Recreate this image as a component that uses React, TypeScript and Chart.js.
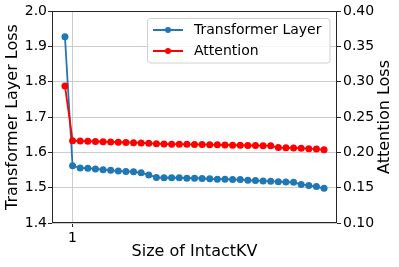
import React, { useEffect, useRef } from "react";
import { Chart, registerables } from "chart.js";

Chart.register(...registerables);

const xValues = [0, 1, 2, 3, 4, 5, 6, 7, 8, 9, 10, 11, 12, 13, 14, 15, 16, 17, 18, 19, 20, 21, 22, 23, 24, 25, 26, 27, 28, 29, 30, 31, 32, 33, 34];
const layerLoss = [1.927, 1.562, 1.556, 1.555, 1.553, 1.551, 1.549, 1.547, 1.546, 1.545, 1.542, 1.536, 1.529, 1.528, 1.528, 1.528, 1.527, 1.527, 1.526, 1.525, 1.524, 1.524, 1.523, 1.523, 1.521, 1.520, 1.519, 1.518, 1.517, 1.516, 1.515, 1.509, 1.506, 1.503, 1.498];
const attnLoss = [0.294, 0.2165, 0.216, 0.2157, 0.2153, 0.215, 0.2146, 0.2143, 0.214, 0.2137, 0.2133, 0.2128, 0.2123, 0.2118, 0.2116, 0.2115, 0.2114, 0.2112, 0.211, 0.2108, 0.2106, 0.2104, 0.2102, 0.21, 0.2098, 0.2096, 0.2094, 0.2092, 0.2068, 0.2064, 0.2062, 0.2058, 0.2052, 0.2046, 0.2036];
const leftTicks = [1.4, 1.5, 1.6, 1.7, 1.8, 1.9, 2.0];
const rightTicks = [0.1, 0.15, 0.2, 0.25, 0.3, 0.35, 0.4];
const xTicks = [1];
const seriesLabels = ["Transformer Layer", "Attention"];
const seriesColors = ["#1f77b4", "#ff0000"];

const FONT = "'DejaVu Sans', sans-serif";

const framePlugin = {
  id: "frameAndLegend",
  afterDraw(chart: any) {
    const { ctx, chartArea } = chart;
    ctx.save();
    // spines
    ctx.strokeStyle = "#262626";
    ctx.lineWidth = 1;
    ctx.strokeRect(chartArea.left + 0.5, chartArea.top + 0.5, chartArea.right - chartArea.left - 1, chartArea.bottom - chartArea.top - 1);
    // right axis title (bottom-to-top like matplotlib)
    ctx.save();
    ctx.translate(385, (chartArea.top + chartArea.bottom) / 2);
    ctx.rotate(-Math.PI / 2);
    ctx.fillStyle = "#000";
    ctx.font = "16px " + FONT;
    ctx.textAlign = "center";
    ctx.textBaseline = "middle";
    ctx.fillText("Attention Loss", 0, 0);
    ctx.restore();
    // legend
    const bx = 147.5, by = 18.5, bw = 182.5, bh = 44.5, r = 3;
    ctx.beginPath();
    ctx.moveTo(bx + r, by);
    ctx.lineTo(bx + bw - r, by);
    ctx.arcTo(bx + bw, by, bx + bw, by + r, r);
    ctx.lineTo(bx + bw, by + bh - r);
    ctx.arcTo(bx + bw, by + bh, bx + bw - r, by + bh, r);
    ctx.lineTo(bx + r, by + bh);
    ctx.arcTo(bx, by + bh, bx, by + bh - r, r);
    ctx.lineTo(bx, by + r);
    ctx.arcTo(bx, by, bx + r, by, r);
    ctx.closePath();
    ctx.fillStyle = "rgba(255,255,255,0.8)";
    ctx.fill();
    ctx.strokeStyle = "#d0d0d0";
    ctx.stroke();
    const rows = [30, 51];
    chart.data.datasets.forEach((ds: any, i: number) => {
      const y = rows[i];
      ctx.strokeStyle = ds.borderColor;
      ctx.lineWidth = 2;
      ctx.beginPath();
      ctx.moveTo(153, y);
      ctx.lineTo(183, y);
      ctx.stroke();
      ctx.fillStyle = ds.borderColor;
      ctx.beginPath();
      ctx.arc(168, y, 3, 0, Math.PI * 2);
      ctx.fill();
      ctx.fillStyle = "#000";
      ctx.font = "14px " + FONT;
      ctx.textAlign = "left";
      ctx.textBaseline = "middle";
      ctx.fillText(ds.label, 194, y);
    });
    ctx.restore();
  },
};

export default function App() {
  const ref = useRef<HTMLCanvasElement>(null);
  useEffect(() => {
    document.body.style.margin = "0";
    const canvas = ref.current!;
    const chart = new Chart(canvas, {
      type: "line",
      data: {
        datasets: [
          {
            label: seriesLabels[0],
            data: xValues.map((x, i) => ({ x, y: layerLoss[i] })),
            borderColor: seriesColors[0],
            backgroundColor: seriesColors[0],
            pointRadius: 3.5,
            pointBorderWidth: 0,
            borderWidth: 1.8,
            yAxisID: "y",
            order: 2,
          },
          {
            label: seriesLabels[1],
            data: xValues.map((x, i) => ({ x, y: attnLoss[i] })),
            borderColor: seriesColors[1],
            backgroundColor: seriesColors[1],
            pointRadius: 3.5,
            pointBorderWidth: 0,
            borderWidth: 1.8,
            yAxisID: "y1",
            order: 1,
          },
        ],
      },
      options: {
        animation: false,
        responsive: false,
        devicePixelRatio: 1,
        layout: { padding: { top: 11, left: 0, right: 0, bottom: 0 } },
        plugins: { legend: { display: false }, tooltip: { enabled: false } },
        scales: {
          x: {
            type: "linear",
            position: "bottom",
            min: -1.7,
            max: 35.7,
            afterBuildTicks: (s: any) => {
              s.ticks = xTicks.map((v) => ({ value: v }));
            },
            afterFit: (s: any) => {
              s.height = 44;
            },
            ticks: { color: "#000", font: { family: FONT, size: 14 }, padding: 3, callback: (v: any) => String(v), maxRotation: 0 },
            grid: { color: "#cccccc", tickColor: "#262626", tickLength: 4, lineWidth: 1 },
            border: { display: false },
            title: { display: true, text: "Size of IntactKV", color: "#000", font: { family: FONT, size: 16 }, padding: { top: 0, bottom: 6 } },
          },
          y: {
            type: "linear",
            position: "left",
            min: 1.4,
            max: 2.0,
            afterBuildTicks: (s: any) => {
              s.ticks = leftTicks.map((v) => ({ value: v }));
            },
            afterFit: (s: any) => {
              s.width = 52;
            },
            ticks: { color: "#000", font: { family: FONT, size: 14 }, padding: 1, callback: (v: any) => Number(v).toFixed(1) },
            grid: { color: "#cccccc", tickColor: "#262626", tickLength: 4, lineWidth: 1 },
            border: { display: false },
            title: { display: true, text: "Transformer Layer Loss", color: "#000", font: { family: FONT, size: 16 }, padding: { top: 3, bottom: 0 } },
          },
          y1: {
            type: "linear",
            position: "right",
            min: 0.1,
            max: 0.4,
            afterBuildTicks: (s: any) => {
              s.ticks = rightTicks.map((v) => ({ value: v }));
            },
            afterFit: (s: any) => {
              s.width = 62;
            },
            ticks: { color: "#000", font: { family: FONT, size: 14 }, padding: 2, callback: (v: any) => Number(v).toFixed(2) },
            grid: { drawOnChartArea: false, tickColor: "#262626", tickLength: 4 },
            border: { display: false },
          },
        },
      },
      plugins: [framePlugin],
    } as any);
    return () => chart.destroy();
  }, []);
  return (
    <div style={{ position: "fixed", left: 0, top: 0, width: 399, height: 267 }}>
      <canvas ref={ref} width={399} height={267} />
    </div>
  );
}
